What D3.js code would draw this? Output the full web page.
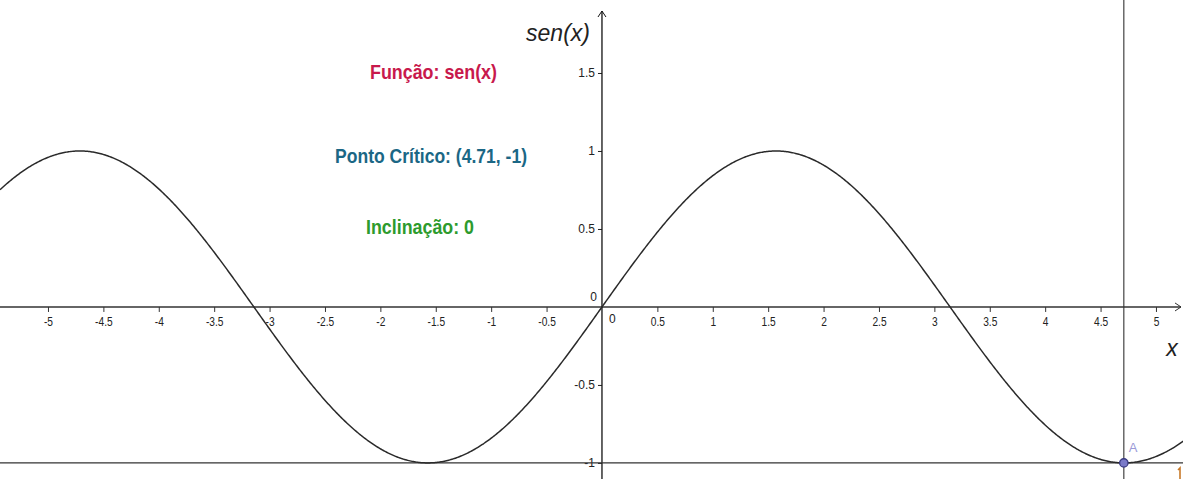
<!DOCTYPE html>
<html><head><meta charset="utf-8">
<script src="https://cdn.jsdelivr.net/npm/d3@7"></script>
<style>body{margin:0;background:#fff}svg{display:block}</style>
</head><body>
<svg id="c" width="1183" height="479"></svg>
<script>
const xTicks = [-5,-4.5,-4,-3.5,-3,-2.5,-2,-1.5,-1,-0.5,0.5,1,1.5,2,2.5,3,3.5,4,4.5,5];
const yTicks = [-1,-0.5,0.5,1,1.5];
const xDomain = [-5.433, 5.244];
const yDomain = [-1.103, 1.968];
const critPoint = {x: 4.71, y: -1, label: "A"};
const labels = [
  {text: "Função: sen(x)", color: "#c8194c"},
  {text: "Ponto Crítico: (4.71, -1)", color: "#1b6785"},
  {text: "Inclinação: 0", color: "#2d9b2d"}
];
const W = 1183, H = 479;
const svg = d3.select("#c");
const x = d3.scaleLinear().domain(xDomain).range([0, W]);
const y = d3.scaleLinear().domain(yDomain).range([H, 0]);
const X0 = x(0), Y0 = y(0);
const font = "'Liberation Sans',Arial,sans-serif";

const pts = d3.range(xDomain[0], xDomain[1] + 0.01, 0.01).map(v => [v, Math.sin(v)]);

// axes
const xAxis = d3.axisBottom(x).tickValues(xTicks).tickSize(5).tickFormat(d => String(d));
const gx = svg.append("g").attr("transform", `translate(0,${Y0})`).call(xAxis);
gx.select(".domain").remove();
gx.selectAll(".tick line").attr("stroke", "#333");
gx.selectAll(".tick text").attr("font-family", font).attr("font-size", 12).attr("fill", "#222")
  .attr("dy", "0.95em").attr("transform", "scale(0.85,1)");
svg.append("line").attr("x1", 0).attr("x2", W - 2).attr("y1", Y0).attr("y2", Y0).attr("stroke", "#333").attr("stroke-width", 1.6);
svg.append("path").attr("d", `M${W-8},${Y0-4}L${W-2},${Y0}L${W-8},${Y0+4}`).attr("fill", "none").attr("stroke", "#333").attr("stroke-width", 1);

const yAxis = d3.axisLeft(y).tickValues(yTicks).tickSize(4).tickFormat(d => String(d));
const gy = svg.append("g").attr("transform", `translate(${X0},0)`).call(yAxis);
gy.select(".domain").remove();
gy.selectAll(".tick line").attr("stroke", "#222");
gy.selectAll(".tick text").attr("font-family", font).attr("font-size", 12).attr("fill", "#222");
svg.append("line").attr("x1", X0).attr("x2", X0).attr("y1", 11).attr("y2", H).attr("stroke", "#111").attr("stroke-width", 1.3);
svg.append("path").attr("d", `M${X0-4},${17}L${X0},${11}L${X0+4},${17}`).attr("fill", "none").attr("stroke", "#111").attr("stroke-width", 1);

// zero labels
svg.append("text").attr("x", X0 - 5).attr("y", Y0 - 6).attr("text-anchor", "end").attr("font-family", font).attr("font-size", 12).attr("fill", "#222").text("0");
svg.append("text").attr("x", X0 + 7).attr("y", Y0 + 5).attr("dy", "0.95em").attr("font-family", font).attr("font-size", 12).attr("fill", "#222").text("0");

// axis titles
svg.append("text").attr("x", 558).attr("y", 41).attr("text-anchor", "middle").attr("font-family", font).attr("font-style", "italic").attr("font-size", 23).attr("fill", "#222").text("sen(x)");
svg.append("text").attr("x", 1172).attr("y", 356).attr("text-anchor", "middle").attr("font-family", font).attr("font-style", "italic").attr("font-size", 23).attr("fill", "#222").text("x");

// lines through critical point
svg.append("line").attr("x1", 0).attr("x2", W).attr("y1", y(critPoint.y)).attr("y2", y(critPoint.y)).attr("stroke", "#333").attr("stroke-width", 1.3);
svg.append("line").attr("x1", x(critPoint.x)).attr("x2", x(critPoint.x)).attr("y1", 0).attr("y2", H).attr("stroke", "#333").attr("stroke-width", 1.1);

// curve
svg.append("path").datum(pts)
  .attr("d", d3.line().x(d => x(d[0])).y(d => y(d[1])))
  .attr("fill", "none").attr("stroke", "#2a2a2a").attr("stroke-width", 1.5);

// point A
svg.append("circle").attr("cx", x(critPoint.x)).attr("cy", y(critPoint.y)).attr("r", 4.2)
  .attr("fill", "#7a7ac8").attr("stroke", "#3a3a80").attr("stroke-width", 1.3);
svg.append("text").attr("x", x(critPoint.x) + 5).attr("y", y(critPoint.y) - 11)
  .attr("font-family", font).attr("font-size", 13).attr("fill", "#9a9ad8").text(critPoint.label);
// small orange fragment at bottom right edge (partial glyph in reference)
svg.append("path").attr("d", `M${W-5},${H-9}L${W-3},${H-11}L${W-3},${H}`)
  .attr("fill", "none").attr("stroke", "#c87a2a").attr("stroke-width", 1.6);

// info texts
const lx = [433.5, 431, 420], ly = [79, 163, 234], lw = [127, 192, 108];
labels.forEach((l, i) => {
  svg.append("text").attr("x", lx[i] - lw[i] / 2).attr("y", ly[i])
    .attr("textLength", lw[i]).attr("lengthAdjust", "spacingAndGlyphs")
    .attr("font-family", font).attr("font-weight", "bold").attr("font-size", 21).attr("fill", l.color).text(l.text);
});
</script>
</body></html>
